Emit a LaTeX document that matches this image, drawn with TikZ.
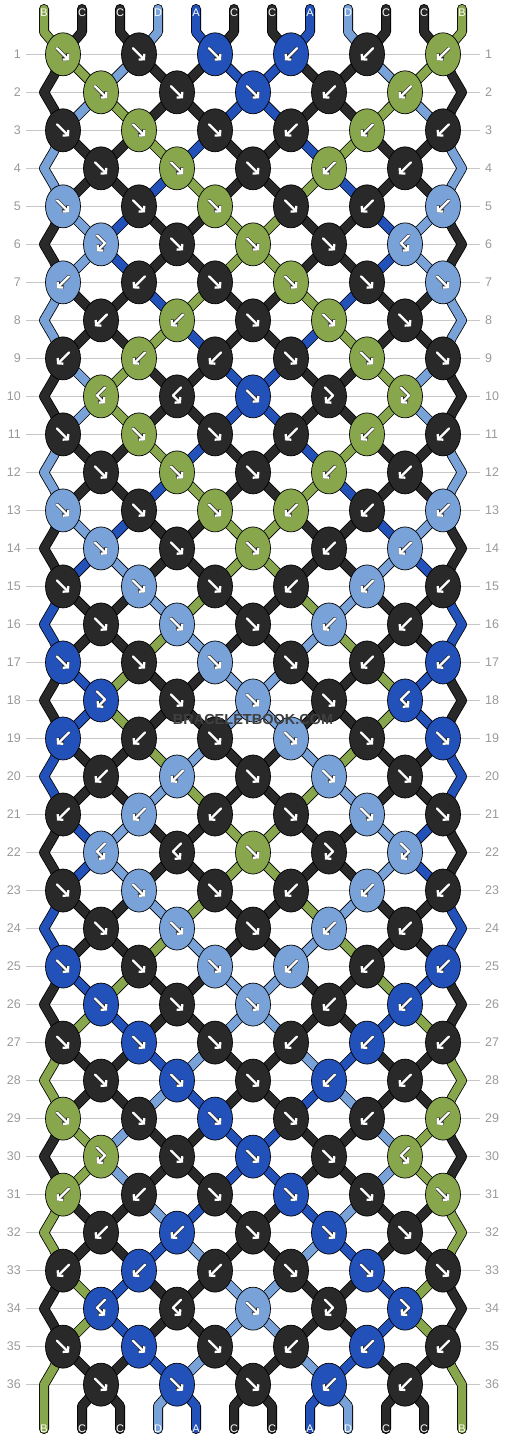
\documentclass[tikz,border=0pt]{standalone}
\usepackage{fontspec}
\setmainfont{Liberation Sans}
\usetikzlibrary{arrows.meta, calc, shapes.geometric}

\definecolor{strA}{HTML}{2251B9}
\definecolor{strB}{HTML}{88A74C}
\definecolor{strC}{HTML}{292929}
\definecolor{strD}{HTML}{78A2D8}

\newcommand\drawstrand[2]{%
 \draw[rim] #2;
 \draw[core=#1] #2;
}
\newcommand\glyphpath[1]{%
 \if f#1 (-6,-6) -- (6,6)\fi
 \if b#1 (6,-6) -- (-6,6)\fi
 \if p#1 (-4,-9) -- (4,-1) -- (-4,7)\fi
 \if q#1 (4,-9) -- (-4,-1) -- (4,7)\fi
}
\newcommand\knotglyph[2]{%
 \draw[glyphrim, shift={(#2)}] \glyphpath{#1};
 \draw[glyph, shift={(#2)}] \glyphpath{#1};
}

\begin{document}
\begin{tikzpicture}[x=1pt, y=-1pt,
  knot/.style={ellipse, draw=black, line width=0.7pt, minimum width=35pt, minimum height=43pt, inner sep=0pt},
  rim/.style={draw=black, line width=10pt, line cap=round, line join=round},
  core/.style={draw=#1, line width=8.4pt, line cap=round, line join=round},
  glyph/.style={draw=white, line width=2.3pt, line cap=round, line join=round, -{Straight Barb[length=3.5pt, width=8pt]}},
  glyphrim/.style={glyph, draw=black!85, line width=3.5pt},
  rowno/.style={text=black!40, inner sep=0pt, font=\fontsize{12.5}{12.5}\selectfont},
  rowline/.style={draw=black!22, line width=0.9pt},
  letter/.style={text=white, inner sep=0pt, font=\fontsize{11}{11}\selectfont}
 ]
 \useasboundingbox (0,0) rectangle (506,1440);

 \foreach \r in {1,...,36} {
  \pgfmathsetmacro\yy{54.3+38.01*(\r-1)}
  \node [rowno, anchor=east] (nl-\r) at (21,\yy) {\r};
  \node [rowno, anchor=west] (nr-\r) at (485,\yy) {\r};
  \draw [rowline] ($(nl-\r.east)+(5,0)$) -- ($(nr-\r.west)+(-5,0)$);
 }

 \foreach \n/\c in {1/B,2/C,3/C,4/D,5/A,6/C,7/C,8/A,9/D,10/C,11/C,12/B} {
  \pgfmathsetmacro\xx{6+38*\n}
  \coordinate (ts-\n) at (\xx,9);
  \coordinate (tb-\n) at (\xx,32);
  \coordinate (bb-\n) at (\xx,1406);
  \coordinate (be-\n) at (\xx,1429);
  \expandafter\xdef\csname st\n\endcsname{\c}
 }

 % threads, knot by knot
 \foreach \r/\kinds in {1/{f,f,f,b,b,b}, 2/{f,f,f,b,b}, 3/{f,f,f,b,b,b}, 4/{f,f,f,b,b},
   5/{f,f,f,f,b,b}, 6/{p,f,f,f,q}, 7/{b,b,f,f,f,f}, 8/{b,b,f,f,f},
   9/{b,b,b,f,f,f}, 10/{q,q,f,p,p}, 11/{f,f,f,b,b,b}, 12/{f,f,f,b,b},
   13/{f,f,f,b,b,b}, 14/{f,f,f,b,b}, 15/{f,f,f,b,b,b}, 16/{f,f,f,b,b},
   17/{f,f,f,f,b,b}, 18/{p,f,f,f,q}, 19/{b,b,f,f,f,f}, 20/{b,b,f,f,f},
   21/{b,b,b,f,f,f}, 22/{q,q,f,p,p}, 23/{f,f,f,b,b,b}, 24/{f,f,f,b,b},
   25/{f,f,f,b,b,b}, 26/{f,f,f,b,b}, 27/{f,f,f,b,b,b}, 28/{f,f,f,b,b},
   29/{f,f,f,f,b,b}, 30/{p,f,f,f,q}, 31/{b,b,f,f,f,f}, 32/{b,b,f,f,f},
   33/{b,b,b,f,f,f}, 34/{q,q,f,p,p}, 35/{f,f,f,b,b,b}, 36/{f,f,f,b,b}} {
  \pgfmathsetmacro\yy{54.3+38.01*(\r-1)}
  \ifodd\r\else
   \coordinate (e-\r-l) at (44,\yy);
   \coordinate (e-\r-r) at (462,\yy);
  \fi
  \foreach \t [count=\k] in \kinds {
   \ifodd\r \pgfmathtruncatemacro\i{2*\k-1}\else \pgfmathtruncatemacro\i{2*\k}\fi
   \pgfmathtruncatemacro\j{\i+1}
   \pgfmathtruncatemacro\p{\r-2}
   \pgfmathtruncatemacro\q{\r-1}
   \pgfmathsetmacro\xx{25+38*\i}
   \edef\lc{\csname st\i\endcsname}
   \edef\rc{\csname st\j\endcsname}
   \edef\lstL{\csname lst\i\endcsname}
   \edef\lstR{\csname lst\j\endcsname}
   \coordinate (c-\r-\k) at (\xx,\yy);
   \expandafter\xdef\csname kc\r-\k\endcsname{\if b\t\rc\else\if q\t\rc\else\lc\fi\fi}
   \expandafter\xdef\csname kt\r-\k\endcsname{\t}
   \ifnum\r=1
    \drawstrand{str\lc}{(ts-\i) -- (tb-\i) -- (c-\r-\k)}
    \drawstrand{str\rc}{(ts-\j) -- (tb-\j) -- (c-\r-\k)}
   \else
    \ifnum\i=1
     \drawstrand{str\lc}{(c-\p-1) -- ++(-9,21) -- (e-\q-l) -- ++(10,17) -- (c-\r-\k)}
    \else
     \drawstrand{str\lc}{(\lstL) -- (c-\r-\k)}
    \fi
    \ifnum\j=12
     \drawstrand{str\rc}{(c-\p-6) -- ++(9,21) -- (e-\q-r) -- ++(-10,17) -- (c-\r-\k)}
    \else
     \drawstrand{str\rc}{(\lstR) -- (c-\r-\k)}
    \fi
   \fi
   \expandafter\xdef\csname lst\i\endcsname{c-\r-\k}
   \expandafter\xdef\csname lst\j\endcsname{c-\r-\k}
   \if f\t \expandafter\xdef\csname st\i\endcsname{\rc}\expandafter\xdef\csname st\j\endcsname{\lc}\fi
   \if b\t \expandafter\xdef\csname st\i\endcsname{\rc}\expandafter\xdef\csname st\j\endcsname{\lc}\fi
  }
 }

 \foreach \n in {2,...,11} {
  \edef\cc{\csname st\n\endcsname}
  \edef\lstL{\csname lst\n\endcsname}
  \drawstrand{str\cc}{(\lstL) -- (bb-\n) -- (be-\n)}
 }
 \edef\cc{\csname st1\endcsname}
 \drawstrand{str\cc}{(c-35-1) -- ++(-9,21) -- (e-36-l) -- (be-1)}
 \edef\cc{\csname st12\endcsname}
 \drawstrand{str\cc}{(c-35-6) -- ++(9,21) -- (e-36-r) -- (be-12)}

 % knots on top
 \foreach \r in {1,...,36} {
  \ifodd\r \def\last{6}\else \def\last{5}\fi
  \foreach \k in {1,...,\last} {
   \edef\kc{str\csname kc\r-\k\endcsname}
   \edef\t{\csname kt\r-\k\endcsname}
   \node [knot, fill=\kc] (k-\r-\k) at (c-\r-\k) {};
   \knotglyph{\t}{k-\r-\k}
  }
 }

 \foreach \n/\c in {1/B,2/C,3/C,4/D,5/A,6/C,7/C,8/A,9/D,10/C,11/C,12/B} {
  \node [letter, anchor=north] (lt-\n) at (ts-\n) {\c};
  \node [letter] (lb-\n) at (be-\n) {\c};
 }

 \node [text=black!75, font=\fontsize{14.5}{14.5}\selectfont\bfseries] (mark) at (253,719) {BRACELETBOOK.COM};
\end{tikzpicture}
\end{document}
